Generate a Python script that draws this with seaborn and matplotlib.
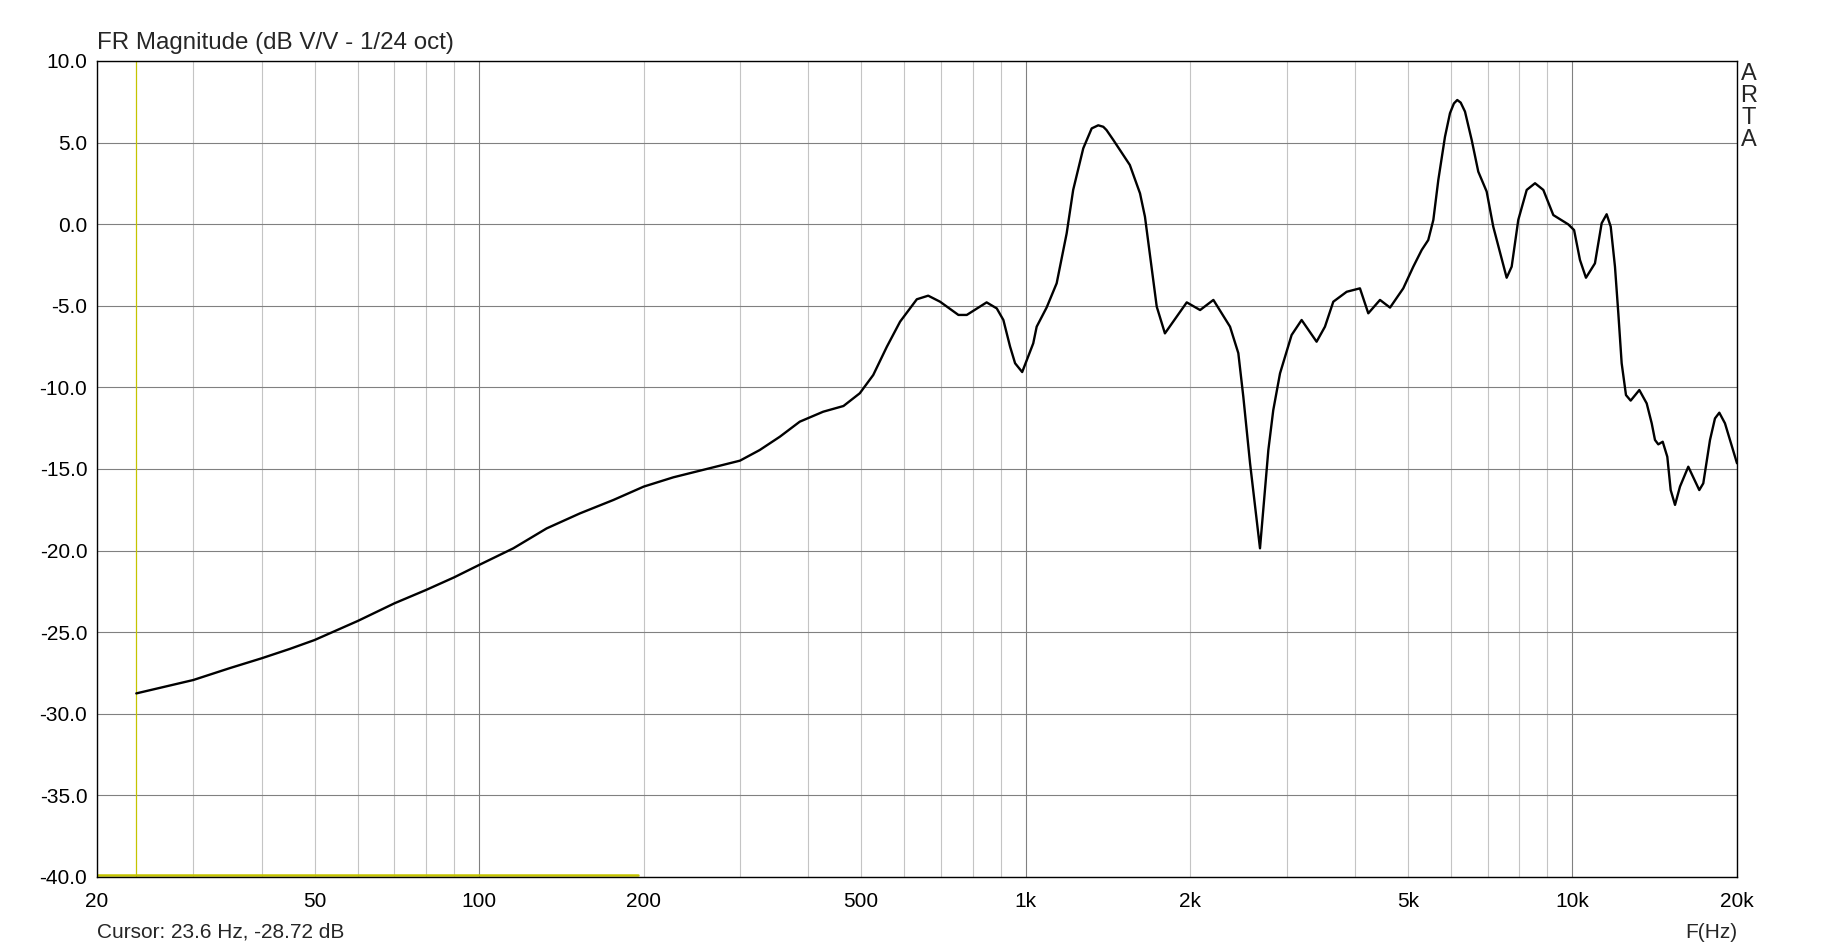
"""
FR magnitude plot (ARTA style) redrawn with seaborn / matplotlib
"""

import numpy as np
import pandas as pd
import matplotlib
matplotlib.use('Agg')
import matplotlib.pyplot as plt
from matplotlib.ticker import FixedLocator, FixedFormatter
import seaborn as sns

# Set style
sns.set_style("white")
plt.rcParams['font.family'] = ['Liberation Sans', 'DejaVu Sans']

# --- data ------------------------------------------------------------------
freq_hz = [23.6, 30, 35, 40, 45, 50, 60, 70, 80, 90, 100, 115.5, 132.9, 152.9,
           176, 200, 226.6, 260.8, 300, 326, 355, 386, 426, 464, 497, 526, 557,
           589, 632, 663, 697, 753, 780, 848, 885, 910, 936, 956, 985, 1032,
           1047, 1092, 1139, 1188, 1221, 1274, 1320, 1357, 1386, 1405, 1446,
           1550, 1618, 1652, 1736, 1797, 1970, 2084, 2204, 2364, 2448, 2500,
           2572, 2682, 2778, 2836, 2918, 3064, 3196, 3404, 3526, 3652, 3864,
           4086, 4232, 4446, 4638, 4904, 5116, 5300, 5448, 5566, 5684, 5846,
           5970, 6070, 6156, 6246, 6360, 6542, 6726, 6968, 7164, 7580, 7742,
           7960, 8248, 8542, 8846, 9226, 9826, 10070, 10322, 10586, 10994,
           11310, 11550, 11750, 11962, 12132, 12304, 12530, 12780, 13254, 13672,
           13964, 14158, 14356, 14626, 14912, 15126, 15404, 15730, 16290, 17062,
           17352, 17850, 18228, 18564, 19012, 20000]
mag_db = [-28.75, -27.93, -27.2, -26.6, -26.03, -25.48, -24.31, -23.23, -22.41,
          -21.64, -20.88, -19.86, -18.64, -17.72, -16.9, -16.08, -15.51, -15.0,
          -14.49, -13.84, -13.02, -12.1, -11.49, -11.14, -10.36, -9.24, -7.51,
          -5.97, -4.6, -4.38, -4.75, -5.56, -5.56, -4.79, -5.16, -5.87, -7.5,
          -8.52, -9.06, -7.3, -6.28, -5.1, -3.62, -0.56, 2.1, 4.65, 5.87, 6.06,
          5.97, 5.77, 5.16, 3.63, 1.89, 0.46, -5.05, -6.69, -4.79, -5.26, -4.64,
          -6.28, -7.9, -10.57, -14.65, -19.86, -13.84, -11.4, -9.14, -6.79,
          -5.87, -7.2, -6.28, -4.75, -4.14, -3.93, -5.46, -4.64, -5.11, -3.93,
          -2.6, -1.58, -0.97, 0.26, 2.71, 5.36, 6.8, 7.4, 7.61, 7.45, 6.9,
          5.16, 3.22, 2.0, -0.15, -3.28, -2.6, 0.26, 2.1, 2.51, 2.1, 0.56,
          -0.01, -0.36, -2.19, -3.28, -2.4, 0.06, 0.61, -0.15, -2.6, -5.46,
          -8.52, -10.47, -10.81, -10.16, -10.98, -12.2, -13.22, -13.49, -13.33,
          -14.25, -16.29, -17.2, -16.08, -14.86, -16.29, -15.88, -13.22, -11.9,
          -11.55, -12.2, -14.65]

cursor_hz = 23.6
cursor_db = -28.72
marker_hz = [20, 195]
marker_db = -39.85

x_major = [100, 1000, 10000]
x_major_labels = ['100', '1k', '10k']
x_minor = [20, 30, 40, 50, 60, 70, 80, 90, 200, 300, 400, 500, 600, 700, 800,
           900, 2000, 3000, 4000, 5000, 6000, 7000, 8000, 9000, 20000]
x_minor_labels = {20: '20', 50: '50', 200: '200', 500: '500', 2000: '2k',
                  5000: '5k', 20000: '20k'}
y_ticks = [-40, -35, -30, -25, -20, -15, -10, -5, 0, 5, 10]

df = pd.DataFrame({'F(Hz)': freq_hz, 'dB': mag_db})

W, H = 1833, 950
fig = plt.figure(figsize=(W / 100, H / 100), dpi=100)
ax = fig.add_axes([97 / W, 1 - 877 / H, 1640 / W, 816 / H])

ax.set_xscale('log')
ax.set_xlim(20, 20000)
ax.set_ylim(-40, 10)

# grid
ax.xaxis.set_major_locator(FixedLocator(x_major))
ax.xaxis.set_major_formatter(FixedFormatter(x_major_labels))
ax.xaxis.set_minor_locator(FixedLocator(x_minor))
ax.xaxis.set_minor_formatter(FixedFormatter([x_minor_labels.get(v, '') for v in x_minor]))
ax.set_yticks(y_ticks)
ax.set_yticklabels(['%.1f' % v for v in y_ticks])
ax.grid(True, which='major', axis='both', color='#808080', lw=0.8)
ax.grid(True, which='minor', axis='x', color='#c4c4c4', lw=0.8)
ax.tick_params(which='both', length=0, labelsize=15, colors='black')
ax.tick_params(axis='x', which='both', pad=11)
ax.tick_params(axis='y', pad=7)
for s in ax.spines.values():
    s.set_color('black')
    s.set_linewidth(1.0)

# cursor
ax.axvline(cursor_hz, color='#c4c400', lw=0.9, zorder=2)
ax.plot(marker_hz, [marker_db, marker_db], color='#c4c400', lw=1.8, zorder=2)

# curve
sns.lineplot(data=df, x='F(Hz)', y='dB', ax=ax, color='black', lw=1.7,
             estimator=None, sort=False, zorder=3)
ax.set_xlabel('')
ax.set_ylabel('')

# texts
fig.text(97 / W, 1 - 49 / H, 'FR Magnitude (dB V/V - 1/24 oct)', fontsize=17.4,
         ha='left', va='baseline')
fig.text(97 / W, 1 - 932 / H, 'Cursor: %.1f Hz, %.2f dB' % (cursor_hz, cursor_db),
         fontsize=15, ha='left', va='center')
fig.text(1737 / W, 1 - 932 / H, 'F(Hz)', fontsize=15, ha='right', va='center')
for i, ch in enumerate('ARTA'):
    fig.text(1749 / W, 1 - (79.5 + 22 * i) / H, ch, fontsize=17, ha='center',
             va='baseline')

plt.savefig('out.png', dpi=100)
plt.close()
